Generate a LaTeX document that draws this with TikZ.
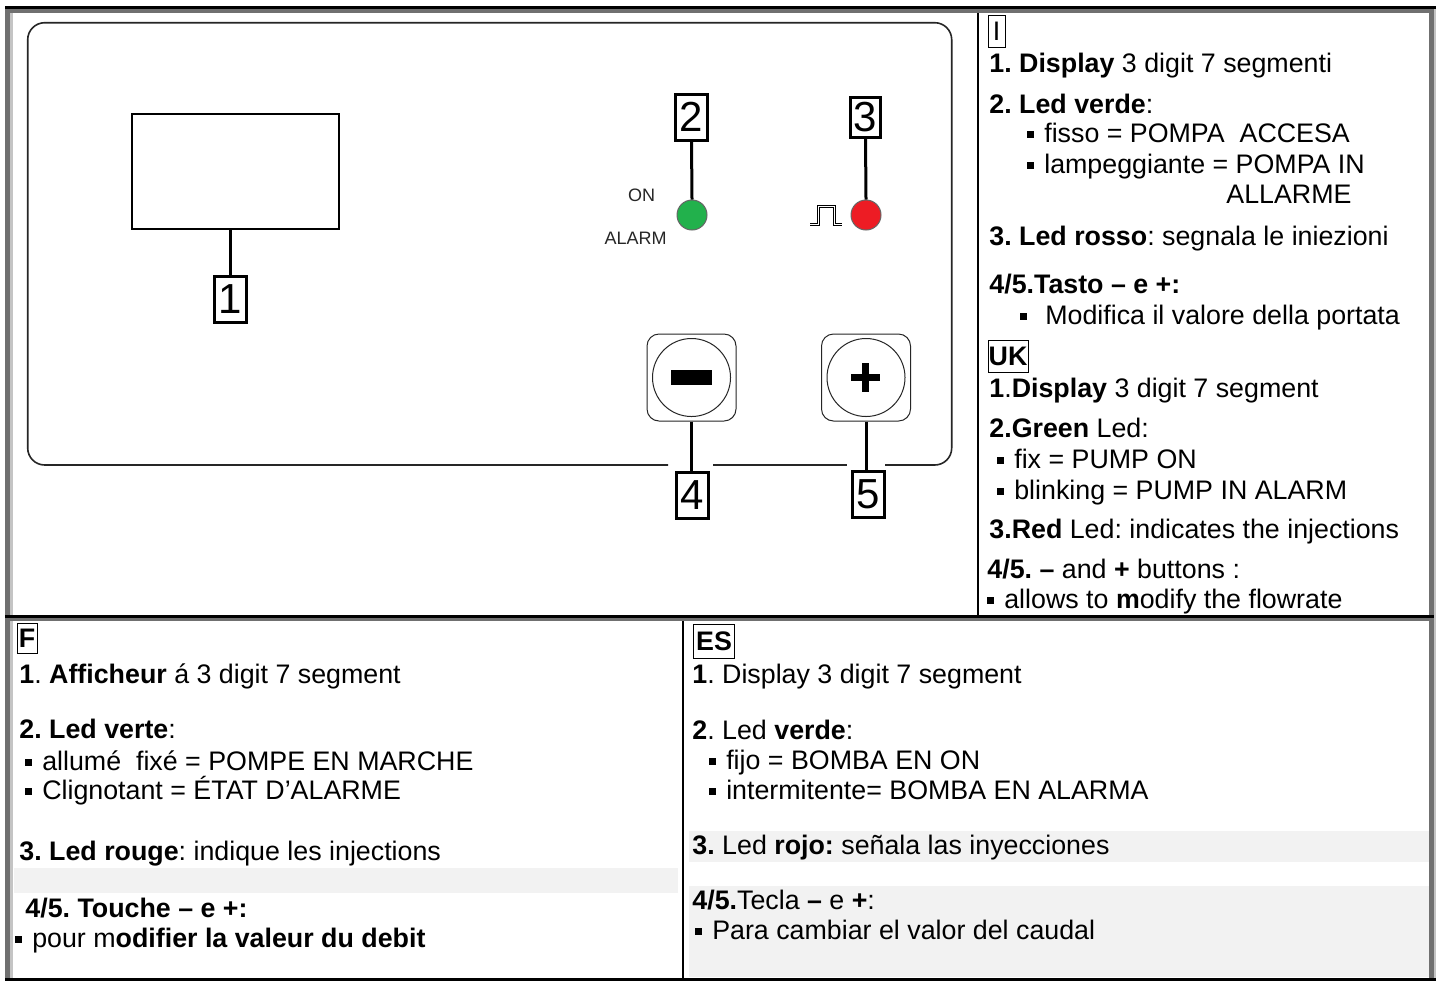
\documentclass[tikz,border=0pt]{standalone}
\usepackage{fontspec}
\setmainfont{Liberation Sans}
\usepackage{tikz}
\usetikzlibrary{positioning,calc}
\definecolor{frgray}{HTML}{707070}
\definecolor{frlight}{HTML}{C4C4C4}
\definecolor{bandgray}{HTML}{F2F2F2}
\definecolor{ledgreen}{HTML}{22B14C}
\definecolor{ledred}{HTML}{ED1C24}
\newcommand{\sqbul}{\raisebox{0.165em}{\rule{0.23em}{0.23em}}\hspace{0.4em}}
\frenchspacing

\begin{document}
\begin{tikzpicture}[x=0.5pt, y=-0.5pt,
  txt/.style={font=\fontsize{13.4}{15}\selectfont, anchor=base west, inner sep=0pt},
  numbox/.style={draw, line width=1.5pt, font=\fontsize{21}{21}\selectfont, minimum width=16pt, minimum height=23pt, inner sep=0pt},
  langbox/.style={draw, line width=0.5pt, font=\fontsize{13.4}{15}\selectfont\bfseries, inner sep=0pt},
  lead/.style={line width=1.5pt},
  led/.style={circle, draw=black!60, line width=0.5pt, minimum size=15pt, inner sep=0pt},
  ledlbl/.style={font=\fontsize{9}{9}\selectfont\color{black!85}, inner sep=0pt},
  keyframe/.style={draw=black!85, line width=0.5pt, rounded corners=6pt, minimum width=44.5pt, minimum height=43.5pt, inner sep=0pt},
  keyring/.style={circle, draw=black!85, line width=0.5pt, minimum size=39pt, inner sep=0pt},
  band/.style={fill=bandgray},
]
\fill[white] (0,0) rectangle (1443,981);
\useasboundingbox (0,0) rectangle (1443,981);

% shaded rows
\fill[band] (14,868) rectangle (678,893);
\fill[band] (689,831) rectangle (1429,862);
\fill[band] (689,886) rectangle (1429,977);

% table frame
\fill[frgray] (5,6) rectangle (10,980);
\fill[frlight] (10,12.7) rectangle (12.7,978);
\fill[frgray] (1429,6) rectangle (1434,980);
\fill[frlight] (1434,6) rectangle (1436,980);
\fill[frgray] (10,9) rectangle (1429,12.7);
\fill[black] (5,6) rectangle (1436,9);
\fill[frgray] (10,618) rectangle (1429,621);
\fill[black] (5,615) rectangle (1434,618);
\fill[black] (5,978) rectangle (1436,980.5);
\fill[black] (977,12.7) rectangle (979,615);
\fill[black] (682,621) rectangle (684,978);

% front panel
\draw[line width=0.8pt, black!85, rounded corners=8.5pt]
  (668,465) -| (27.7,22.7) -| (951.7,465) -- (885,465);
\draw[line width=0.8pt, black!85] (713,465) -- (847,465);

% display
\node[draw, line width=0.8pt, minimum width=103.5pt, minimum height=57.5pt, inner sep=0pt] (disp) at (235.5,171.5) {};
\node[numbox] (n1) at (230.5,299) {1};
\draw[lead] (n1.north) -- (n1.north |- disp.south);

% leds
\node[led, fill=ledgreen] (led2) at (692,215) {};
\node[led, fill=ledred] (led3) at (866,215) {};
\node[numbox] (n2) at (691.5,117) {2};
\node[numbox, minimum width=15pt, minimum height=20pt] (n3) at (865.5,117) {3};
\draw[lead] (n2.south) -- (led2.north);
\draw[lead] (n3.south) -- (led3.north);
\node[ledlbl] (onlbl) at (641.5,195) {ON};
\node[ledlbl] (alarmlbl) at (635.5,238) {ALARM};
\draw[line width=0.5pt, double, double distance=0.5pt] (810,224) -- (818,224) |- (834,206) |- (842,224);

% keys
\node[keyframe] (key4) at (691.5,377.5) {};
\node[keyring] (ring4) at (691.5,377.5) {};
\node[keyframe] (key5) at (866,377.5) {};
\node[keyring] (ring5) at (866,377.5) {};
\fill ($(ring4)+(-20.5,-7.5)$) rectangle ++(41,15);
\fill ($(ring5)+(-15,-3.5)$) rectangle ++(29,7);
\fill ($(ring5)+(-4,-15)$) rectangle ++(7,29);
\node[numbox] (n4) at (692.5,495) {4};
\node[numbox] (n5) at (868,494) {5};
\draw[lead] (key4.south) -- (key4.south |- n4.north);
\draw[lead] (key5.south) -- (key5.south |- n5.north);

% language tags
\node[langbox, font=\fontsize{13.4}{15}\selectfont, minimum width=8.5pt, minimum height=16pt] (tagI) at (996.5,31) {I};
\node[langbox, minimum width=20pt, minimum height=16pt] (tagUK) at (1008,356) {UK};
\node[langbox, minimum width=10pt, minimum height=15pt] (tagF) at (27,638) {F};
\node[langbox, minimum width=20.5pt, minimum height=17pt] (tagES) at (714,641) {ES};

% text lines
\foreach \n/\x/\y/\t in {%
  it1/989/72/{\textbf{1. Display} 3 digit 7 segmenti},
  it2/989/113/{\textbf{2. Led verde}:},
  it3/1027/142/{\sqbul fisso = POMPA\ \ ACCESA},
  it4/1027/173/{\sqbul lampeggiante = POMPA IN},
  it5/1226/203/{ALLARME},
  it6/989/245/{\textbf{3. Led rosso}: segnala le iniezioni},
  it7/989/293/{\textbf{4/5.Tasto -- e +:}},
  it8/1020/324/{\sqbul\hspace{0.3em}Modifica il valore della portata},
  uk1/989/397/{\textbf{1}.\textbf{Display} 3 digit 7 segment},
  uk2/989/437/{\textbf{2.Green} Led:},
  uk3/997/468/{\sqbul fix = PUMP ON},
  uk4/997/499/{\sqbul blinking = PUMP IN ALARM},
  uk5/989/538/{\textbf{3.Red} Led: indicates the injections},
  uk6/987/578/{\textbf{4/5. --} and \textbf{+} buttons :},
  uk7/987/608/{\sqbul allows to \textbf{m}odify the flowrate},
  fr1/19/683/{\textbf{1}. \textbf{Afficheur} á 3 digit 7 segment},
  fr2/19/738/{\textbf{2. Led verte}:},
  fr3/25/770/{\sqbul allumé\ \ fixé = POMPE EN MARCHE},
  fr4/25/799/{\sqbul Clignotant = ÉTAT D’ALARME},
  fr5/19/860/{\textbf{3. Led rouge}: indique les injections},
  fr6/25/917/{\textbf{4/5. Touche -- e +:}},
  fr7/15/947/{\sqbul pour m\textbf{odifier la valeur du debit}},
  es1/692/683/{\textbf{1}. Display 3 digit 7 segment},
  es2/692/739/{\textbf{2}. Led \textbf{verde}:},
  es3/709/769/{\sqbul fijo = BOMBA EN ON},
  es4/709/799/{\sqbul intermitente= BOMBA EN ALARMA},
  es5/692/854/{\textbf{3.} Led \textbf{rojo:} señala las inyecciones},
  es6/692/909/{\textbf{4/5.}Tecla \textbf{--} e \textbf{+}:},
  es7/695/939/{\sqbul Para cambiar el valor del caudal}%
} {
  \node[txt] (\n) at (\x,\y) {\t};
}
\end{tikzpicture}
\end{document}
